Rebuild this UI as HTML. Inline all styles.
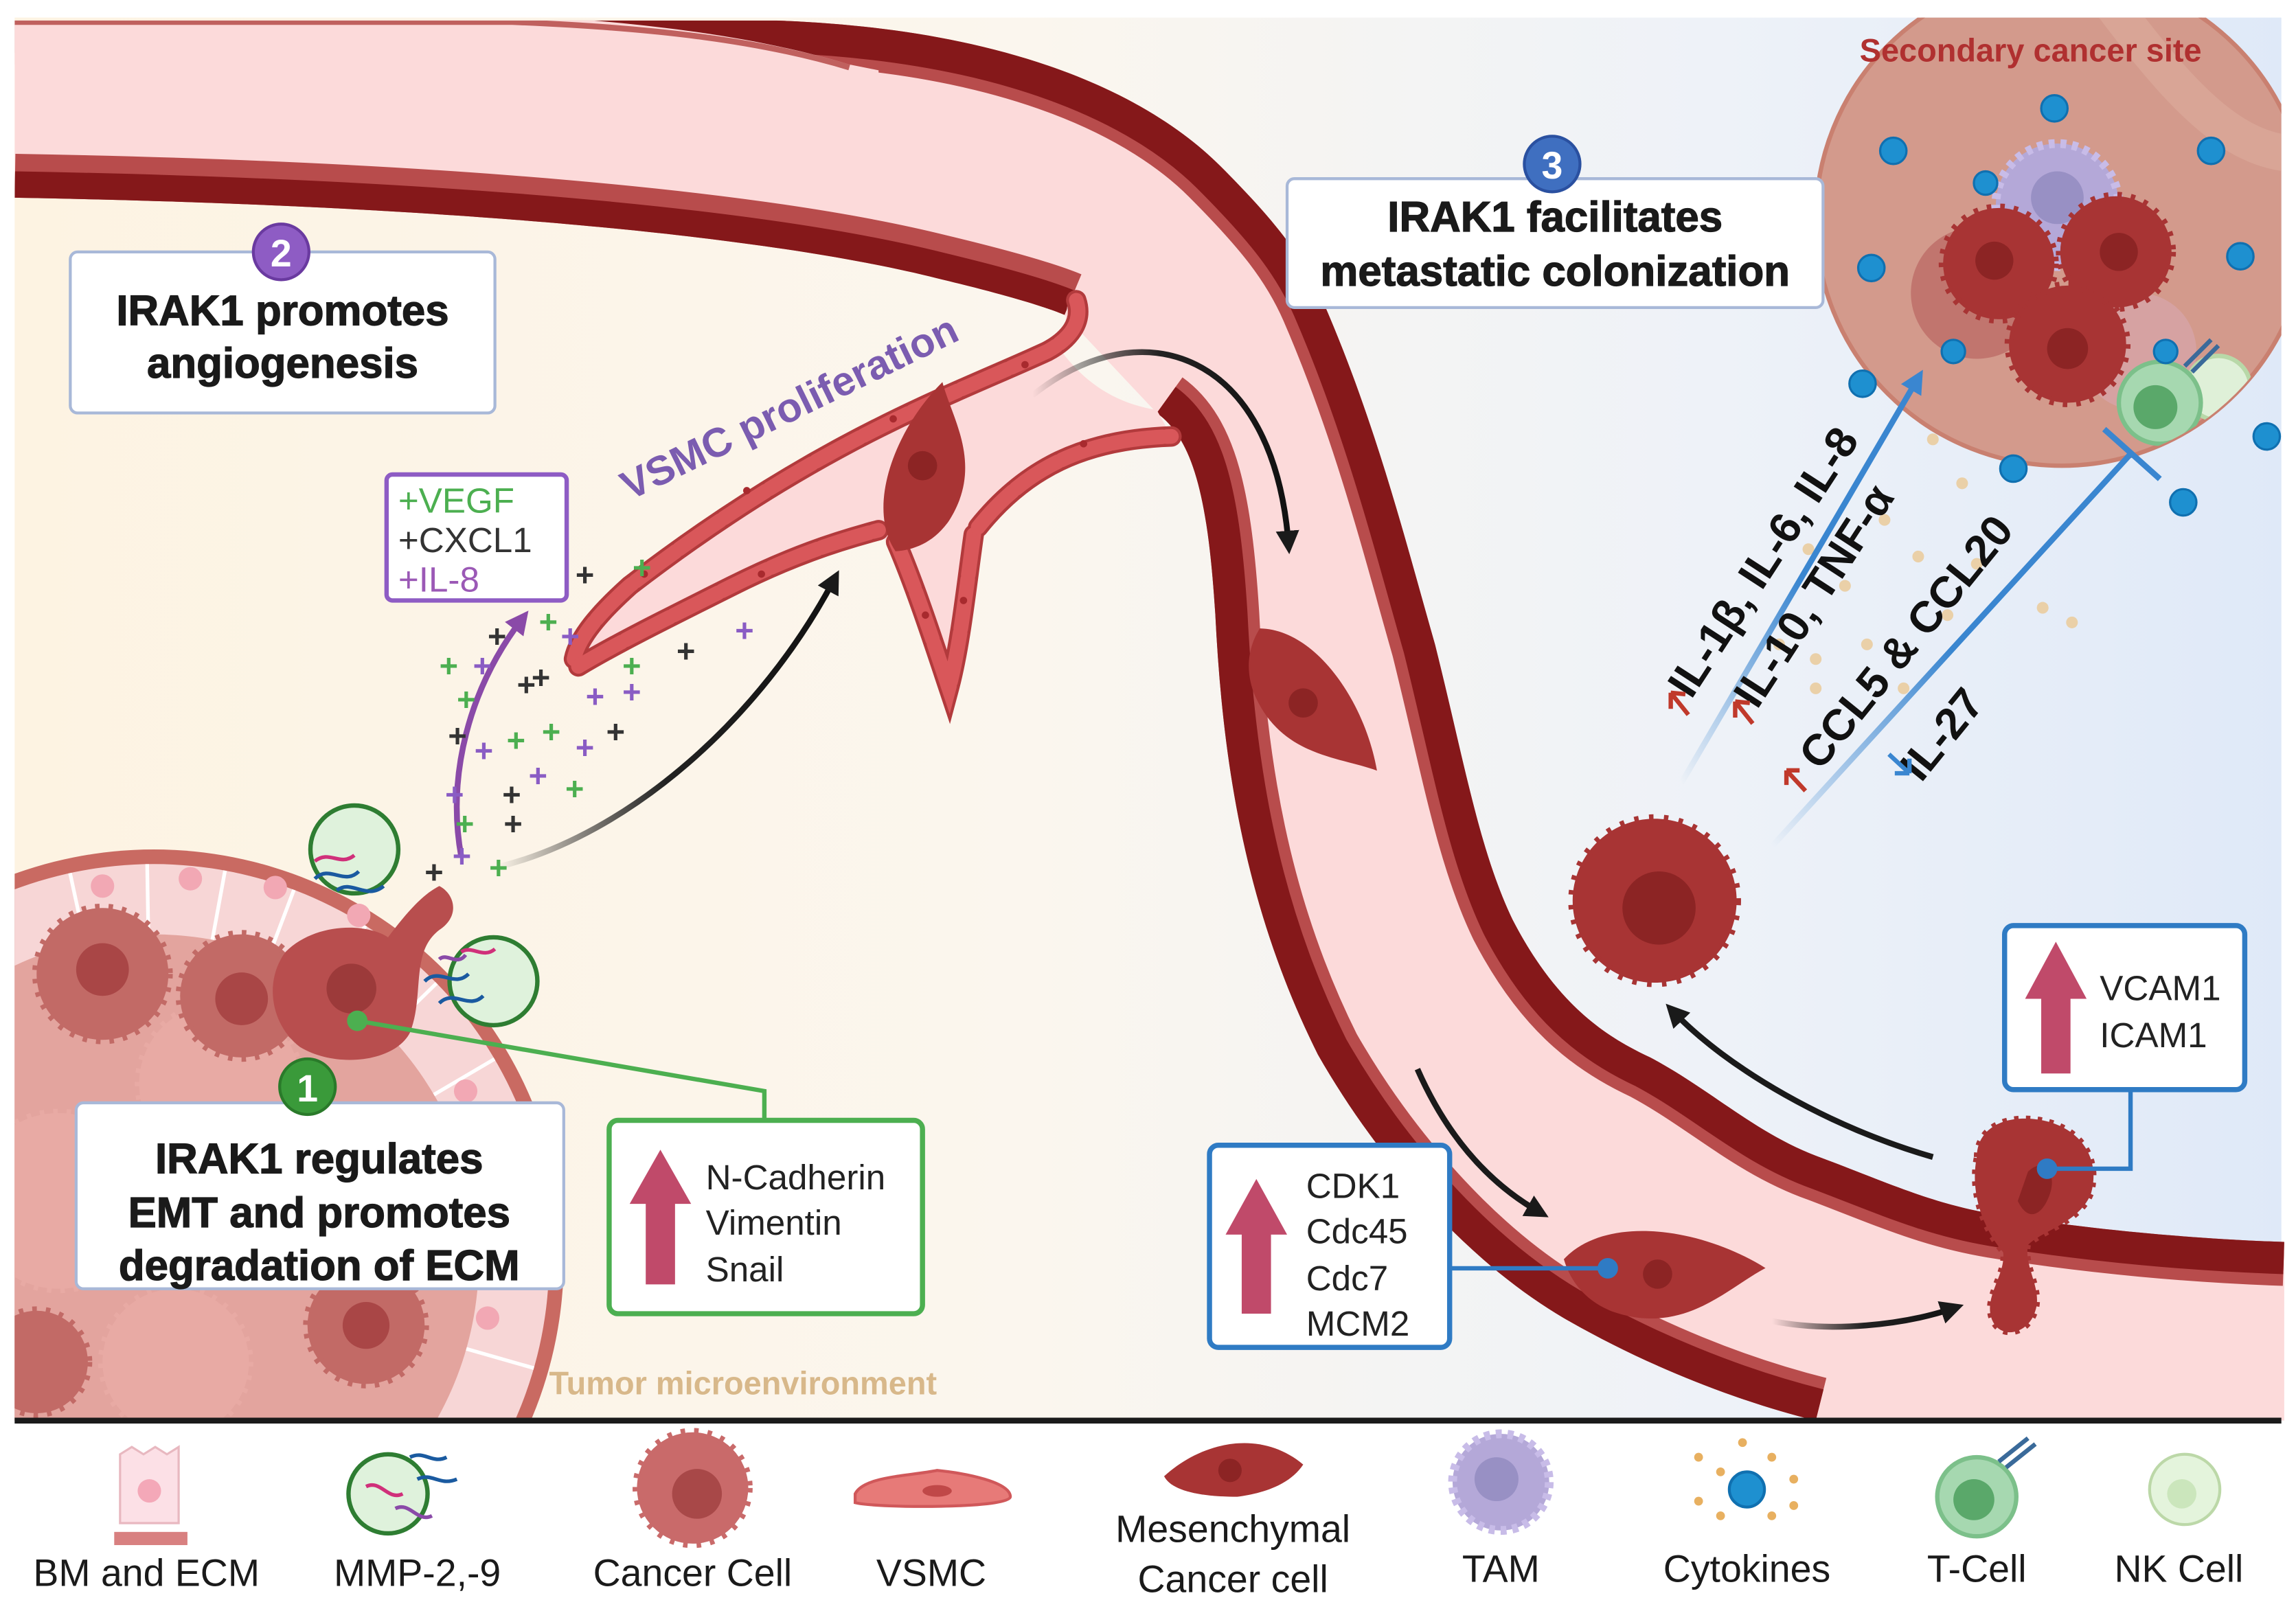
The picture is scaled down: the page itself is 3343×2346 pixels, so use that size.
<!DOCTYPE html>
<html><head><meta charset="utf-8"><style>
html,body{margin:0;padding:0;background:#fff;}
svg{display:block;}
text{font-family:"Liberation Sans",Arial,sans-serif;}
</style></head><body>
<svg width="3343" height="2346" viewBox="0 0 1568 1100" preserveAspectRatio="none" xmlns="http://www.w3.org/2000/svg">
<defs>
<linearGradient id="bg" x1="0" y1="0" x2="1" y2="0">
<stop offset="0" stop-color="#fdf3e2"/><stop offset="0.45" stop-color="#fbf6ee"/><stop offset="0.75" stop-color="#eef2f8"/><stop offset="1" stop-color="#dfe9f8"/>
</linearGradient>
<clipPath id="vc"><path d="M10,14 L530,14 C700,20 790,70 833,113 C870,150 890,175 904,207 C940,290 960,370 980,440 C1000,520 1010,580 1033,628 C1060,680 1090,705 1127,722 C1170,745 1200,775 1245,791 C1290,808 1320,822 1362,829 C1430,840 1500,846 1560,848 L1560,970 L1240,970 C1180,955 1120,930 1068,900 C1000,860 940,790 900,720 C850,620 835,520 830,420 C825,340 815,300 790,282 L727,215 C715,210 690,202 640,190 C520,160 300,140 10,135 Z"/></clipPath>
<clipPath id="main"><rect x="10" y="12" width="1548" height="958"/></clipPath>
<clipPath id="tum"><circle cx="105" cy="860" r="270"/></clipPath>
<clipPath id="sec"><circle cx="1408" cy="150" r="168"/></clipPath>
<linearGradient id="ga" x1="0" y1="0" x2="1" y2="0"><stop offset="0" stop-color="#000" stop-opacity="0"/><stop offset="0.5" stop-color="#222"/><stop offset="1" stop-color="#111"/></linearGradient>
<linearGradient id="gl" x1="0" y1="1" x2="1" y2="0"><stop offset="0" stop-color="#3a86d0" stop-opacity="0"/><stop offset="0.5" stop-color="#3a86d0"/><stop offset="1" stop-color="#3a86d0"/></linearGradient>
<marker id="ah" viewBox="0 0 10 10" refX="6" refY="5" markerWidth="4" markerHeight="4" orient="auto"><path d="M0,0 L10,5 L0,10 Z" fill="#1a1a1a"/></marker>
<marker id="ap" viewBox="0 0 10 10" refX="6" refY="5" markerWidth="4" markerHeight="4" orient="auto"><path d="M0,0 L10,5 L0,10 Z" fill="#8a4aa8"/></marker>
<marker id="ab" viewBox="0 0 10 10" refX="6" refY="5" markerWidth="4" markerHeight="4" orient="auto"><path d="M0,0 L10,5 L0,10 Z" fill="#3a86d0"/></marker>
<path id="mes" d="M-58,12 C-45,-22 10,-36 55,-28 C38,-8 25,28 -20,30 C-38,30 -50,22 -58,12 Z"/>
</defs>
<rect width="1568" height="1100" fill="#fff"/>
<rect x="10" y="12" width="1548" height="958" fill="url(#bg)"/>

<!-- secondary site -->
<g clip-path="url(#main)">
<circle cx="1408" cy="150" r="168" fill="#d39a8c" stroke="#c98070" stroke-width="3"/>
<g clip-path="url(#sec)" opacity="0.5"><path d="M1440,0 C1500,80 1540,120 1600,100" stroke="#e0b0a0" stroke-width="25" fill="none"/></g>
</g>

<!-- tumor -->
<g clip-path="url(#main)">
<circle cx="105" cy="860" r="280" fill="#c96a62"/>
<circle cx="105" cy="860" r="270" fill="#f7d6d6"/>
<g stroke="#fff" stroke-width="2.5" clip-path="url(#tum)">
<line x1="105" y1="860" x2="40" y2="560"/><line x1="105" y1="860" x2="100" y2="560"/><line x1="105" y1="860" x2="160" y2="560"/><line x1="105" y1="860" x2="215" y2="570"/><line x1="105" y1="860" x2="270" y2="600"/><line x1="105" y1="860" x2="320" y2="650"/><line x1="105" y1="860" x2="360" y2="710"/><line x1="105" y1="860" x2="385" y2="780"/><line x1="105" y1="860" x2="390" y2="860"/><line x1="105" y1="860" x2="385" y2="940"/>
</g>
<g fill="#f2a8b4"><circle cx="70" cy="605" r="8"/><circle cx="130" cy="600" r="8"/><circle cx="188" cy="606" r="8"/><circle cx="245" cy="625" r="8"/><circle cx="318" cy="745" r="8"/><circle cx="335" cy="825" r="8"/><circle cx="333" cy="900" r="8"/></g>
<circle cx="105" cy="860" r="222" fill="#e3a49e"/>
<g fill="#e8aaa4" stroke="#e8aaa4" stroke-width="6" stroke-dasharray="3 6">
<circle cx="150" cy="740" r="55"/><circle cx="40" cy="820" r="60"/><circle cx="260" cy="830" r="50"/><circle cx="120" cy="930" r="50"/>
</g>
<g fill="#c26a66" stroke="#c26a66" stroke-width="6" stroke-dasharray="3 6">
<circle cx="70" cy="665" r="45"/><circle cx="165" cy="680" r="42"/><circle cx="250" cy="905" r="40"/><circle cx="25" cy="930" r="35"/>
</g>
<g fill="#a94646"><circle cx="70" cy="662" r="18"/><circle cx="165" cy="682" r="18"/><circle cx="250" cy="905" r="16"/></g>
<path d="M195,650 C215,630 250,630 265,640 C280,620 290,610 300,605 C310,610 315,625 300,635 C280,650 290,680 280,705 C270,725 230,730 205,715 C185,700 180,670 195,650 Z" fill="#b84e4e"/>
<circle cx="240" cy="675" r="17" fill="#9c3a3a"/>
</g>

<!-- vessel -->
<g clip-path="url(#vc)">
<rect x="0" y="0" width="1568" height="1000" fill="#fcdada"/>
<path d="M10,14 L530,14 C700,20 790,70 833,113 C870,150 890,175 904,207 C940,290 960,370 980,440 C1000,520 1010,580 1033,628 C1060,680 1090,705 1127,722 C1170,745 1200,775 1245,791 C1290,808 1320,822 1362,829 C1430,840 1500,846 1560,848" fill="none" stroke="#b84c4c" stroke-width="60"/>
<path d="M10,14 L530,14 C700,20 790,70 833,113 C870,150 890,175 904,207 C940,290 960,370 980,440 C1000,520 1010,580 1033,628 C1060,680 1090,705 1127,722 C1170,745 1200,775 1245,791 C1290,808 1320,822 1362,829 C1430,840 1500,846 1560,848" fill="none" stroke="#85181a" stroke-width="44"/>
<path d="M10,10 L350,10 C450,16 520,26 580,44 L600,48 L600,80 L10,80 Z" fill="#fcdada"/>
<path d="M10,15 L350,15 C450,19 520,28 580,46" fill="none" stroke="#c0605e" stroke-width="4"/>
<path d="M1240,970 C1180,955 1120,930 1068,900 C1000,860 940,790 900,720 C850,620 835,520 830,420 C825,340 815,300 790,282" fill="none" stroke="#b84c4c" stroke-width="60"/>
<path d="M1240,970 C1180,955 1120,930 1068,900 C1000,860 940,790 900,720 C850,620 835,520 830,420 C825,340 815,300 790,282" fill="none" stroke="#85181a" stroke-width="44"/>
<path d="M727,215 C715,210 690,202 640,190 C520,160 300,140 10,135" fill="none" stroke="#b84c4c" stroke-width="60"/>
<path d="M727,215 C715,210 690,202 640,190 C520,160 300,140 10,135" fill="none" stroke="#85181a" stroke-width="36"/>
</g>

<!-- VSMC branch -->
<path d="M730,200 C740,215 735,225 720,235 C650,270 560,300 430,400 C400,425 392,440 390,452 C400,455 420,445 450,425 C500,400 560,375 600,360 C615,390 630,430 645,468 C655,450 658,400 665,362 C700,320 750,300 800,298 L790,280 C760,275 740,260 725,240 Z" fill="#fcdada"/>
<g fill="none" stroke="#b23a3c" stroke-width="14" stroke-linecap="round">
<path d="M735,205 C740,220 730,232 715,240 C650,270 560,300 430,400 C410,418 395,435 392,450"/>
<path d="M395,455 C420,440 450,425 500,400 C540,380 570,370 600,362"/>
<path d="M612,370 C625,400 638,440 648,470 C656,440 660,400 665,365"/>
<path d="M668,360 C700,320 740,300 800,298"/>
</g>
<g fill="none" stroke="#d9575a" stroke-width="10" stroke-linecap="round" stroke-dasharray="34 3">
<path d="M735,205 C740,220 730,232 715,240 C650,270 560,300 430,400 C410,418 395,435 392,450"/>
<path d="M395,455 C420,440 450,425 500,400 C540,380 570,370 600,362"/>
<path d="M612,370 C625,400 638,440 648,470 C656,440 660,400 665,365"/>
<path d="M668,360 C700,320 740,300 800,298"/>
</g>
<g fill="#a82a2e"><circle cx="700" cy="249" r="2.5"/><circle cx="610" cy="286" r="2.5"/><circle cx="510" cy="335" r="2.5"/><circle cx="440" cy="392" r="2.5"/><circle cx="520" cy="392" r="2.5"/><circle cx="740" cy="303" r="2.5"/><circle cx="632" cy="420" r="2.5"/><circle cx="658" cy="410" r="2.5"/></g>
<use href="#mes" transform="translate(635,322) rotate(-55) scale(1.0)" fill="#a83434"/>
<circle cx="630" cy="318" r="10" fill="#8c2424"/>

<!-- cells in vessel -->
<use href="#mes" transform="translate(893,482) rotate(70) scale(1.05)" fill="#a83434"/>
<circle cx="890" cy="480" r="10" fill="#8c2424"/>
<use href="#mes" transform="translate(1135,872) rotate(22) scale(1.15)" fill="#a83434"/>
<circle cx="1132" cy="870" r="10" fill="#8c2424"/>
<!-- extravasating cell -->
<path d="M1350,790 C1350,770 1370,760 1395,765 C1420,770 1435,790 1428,815 C1420,835 1395,840 1385,850 C1382,865 1395,880 1390,895 C1385,912 1365,915 1360,900 C1355,885 1370,870 1368,855 C1355,840 1345,815 1350,790 Z" fill="#a83434" stroke="#a83434" stroke-width="4" stroke-dasharray="3 5"/>
<path d="M1385,800 C1395,790 1405,800 1400,815 C1395,830 1385,835 1378,820 Z" fill="#8c2424"/>
<!-- round cancer cell -->
<circle cx="1130" cy="615" r="56" fill="#a83434" stroke="#a83434" stroke-width="6" stroke-dasharray="3 7"/>
<circle cx="1133" cy="620" r="25" fill="#8c2424"/>

<!-- secondary site cells -->
<g clip-path="url(#sec)">
<circle cx="1350" cy="200" r="45" fill="#b05050" opacity="0.5"/>
<circle cx="1460" cy="240" r="40" fill="#d8a8b0" opacity="0.6"/>
<circle cx="1405" cy="140" r="42" fill="#b4a8d8" stroke="#c8bce8" stroke-width="6" stroke-dasharray="4 4"/>
<circle cx="1405" cy="135" r="18" fill="#9890c4"/>
<circle cx="1365" cy="180" r="38" fill="#a83434" stroke="#a83434" stroke-width="6" stroke-dasharray="3 6"/>
<circle cx="1445" cy="172" r="38" fill="#a83434" stroke="#a83434" stroke-width="6" stroke-dasharray="3 6"/>
<circle cx="1412" cy="235" r="40" fill="#a83434" stroke="#a83434" stroke-width="6" stroke-dasharray="3 6"/>
<g fill="#8c2424"><circle cx="1362" cy="178" r="13"/><circle cx="1447" cy="172" r="13"/><circle cx="1412" cy="238" r="14"/></g>
<circle cx="1515" cy="265" r="22" fill="#dff0d8" stroke="#b8d8a8" stroke-width="3"/>
<circle cx="1475" cy="275" r="28" fill="#a6d8b0" stroke="#7cc08a" stroke-width="3"/>
<circle cx="1472" cy="278" r="15" fill="#5aa86a"/>
</g>
<path d="M1492,250 L1510,232 M1497,254 L1515,236" stroke="#3a6a9a" stroke-width="3"/>
<g fill="#1e90d0" stroke="#1070b0" stroke-width="1.5">
<circle cx="1403" cy="74" r="9"/><circle cx="1293" cy="103" r="9"/><circle cx="1510" cy="103" r="9"/><circle cx="1530" cy="175" r="9"/><circle cx="1278" cy="183" r="9"/><circle cx="1356" cy="125" r="8"/><circle cx="1334" cy="240" r="8"/><circle cx="1479" cy="240" r="8"/><circle cx="1272" cy="262" r="9"/><circle cx="1375" cy="320" r="9"/><circle cx="1491" cy="343" r="9"/><circle cx="1548" cy="298" r="9"/>
</g>

<!-- cytokine dots -->
<g fill="#ead0a8">
<circle cx="1235" cy="375" r="4"/><circle cx="1260" cy="400" r="4"/><circle cx="1287" cy="355" r="4"/><circle cx="1310" cy="380" r="4"/><circle cx="1330" cy="420" r="4"/><circle cx="1240" cy="450" r="4"/><circle cx="1275" cy="440" r="4"/><circle cx="1300" cy="470" r="4"/><circle cx="1240" cy="470" r="4"/><circle cx="1215" cy="440" r="4"/><circle cx="1350" cy="385" r="4"/><circle cx="1395" cy="415" r="4"/><circle cx="1415" cy="425" r="4"/><circle cx="1340" cy="330" r="4"/><circle cx="1320" cy="300" r="4"/>
</g>
<!-- blue lines -->
<line x1="1148" y1="535" x2="1310" y2="258" stroke="url(#gl)" stroke-width="4" marker-end="url(#ab)"/>
<line x1="1210" y1="578" x2="1455" y2="310" stroke="url(#gl)" stroke-width="4"/>
<line x1="1437" y1="293" x2="1475" y2="327" stroke="#3a86d0" stroke-width="4"/>
<g font-weight="bold" font-size="30" fill="#111">
<text transform="translate(1155,478) rotate(-57)">IL-1β, IL-6, IL-8</text>
<text transform="translate(1200,485) rotate(-57)">IL-10, TNF-α</text>
<text transform="translate(1243,527) rotate(-51)">CCL5 &amp; CCL20</text>
<text transform="translate(1312,535) rotate(-51)">IL-27</text>
</g>
<g stroke="#c0392b" stroke-width="3" fill="none"><path d="M1153,488 L1141,473 M1141,473 L1141,484 M1141,473 L1151,474"/><path d="M1197,494 L1185,479 M1185,479 L1185,490 M1185,479 L1195,480"/><path d="M1233,540 L1220,526 M1220,526 L1220,536 M1220,526 L1229,526"/></g>
<g stroke="#3a86d0" stroke-width="3" fill="none"><path d="M1290,515 L1304,528 M1304,528 L1304,518 M1304,528 L1294,528"/></g>

<!-- black arrows -->
<g fill="none" stroke-width="4" marker-end="url(#ah)">
<path d="M340,592 C430,570 520,490 570,395" stroke="url(#ga)"/>
<path d="M705,270 C780,210 870,240 880,372" stroke="url(#ga)"/>
<path d="M968,730 C990,780 1020,810 1052,828" stroke="#1a1a1a"/>
<path d="M1210,902 C1250,910 1300,905 1335,893" stroke="url(#ga)"/>
<path d="M1320,790 C1250,770 1180,730 1142,690" stroke="#1a1a1a"/>
</g>
<path d="M315,585 C305,530 320,470 357,422" fill="none" stroke="#8a4aa8" stroke-width="4" marker-end="url(#ap)"/>

<!-- plus signs -->
<g font-size="22" font-weight="bold">
<text fill="#4caf50" x="300" y="462">+</text><text fill="#8a5cc4" x="323" y="462">+</text><text fill="#333" x="333" y="442">+</text><text fill="#4caf50" x="368" y="432">+</text><text fill="#8a5cc4" x="383" y="442">+</text>
<text fill="#4caf50" x="312" y="485">+</text><text fill="#333" x="353" y="475">+</text><text fill="#333" x="363" y="470">+</text><text fill="#8a5cc4" x="400" y="483">+</text><text fill="#8a5cc4" x="425" y="480">+</text><text fill="#4caf50" x="425" y="462">+</text><text fill="#333" x="462" y="452">+</text><text fill="#8a5cc4" x="502" y="438">+</text>
<text fill="#333" x="306" y="510">+</text><text fill="#8a5cc4" x="324" y="520">+</text><text fill="#4caf50" x="346" y="513">+</text><text fill="#4caf50" x="370" y="507">+</text><text fill="#8a5cc4" x="393" y="518">+</text><text fill="#333" x="414" y="507">+</text>
<text fill="#8a5cc4" x="304" y="550">+</text><text fill="#8a5cc4" x="361" y="537">+</text><text fill="#333" x="343" y="550">+</text><text fill="#4caf50" x="386" y="546">+</text>
<text fill="#4caf50" x="311" y="570">+</text><text fill="#333" x="344" y="570">+</text><text fill="#8a5cc4" x="309" y="592">+</text><text fill="#4caf50" x="334" y="600">+</text><text fill="#333" x="290" y="603">+</text>
<text fill="#333" x="393" y="400">+</text><text fill="#4caf50" x="432" y="395">+</text>
</g>

<!-- MMP circles -->
<g fill="#dff2dc" stroke="#2e7d32" stroke-width="3">
<circle cx="242" cy="580" r="30"/><circle cx="337" cy="670" r="30"/>
</g>
<g fill="none" stroke-width="2.5">
<path d="M215,600 C225,590 235,605 245,595" stroke="#1a5aa0"/><path d="M230,608 C240,600 250,615 262,605" stroke="#1a5aa0"/><path d="M215,588 C225,580 232,592 242,584" stroke="#d0307a"/>
<path d="M290,670 C300,660 310,675 320,665" stroke="#1a5aa0"/><path d="M300,685 C310,675 320,690 330,680" stroke="#1a5aa0"/><path d="M300,655 C305,650 312,660 318,652" stroke="#8a4aa8"/><path d="M315,650 C322,645 330,655 338,648" stroke="#d0307a"/>
</g>

<!-- connectors -->
<polyline points="244,697 522,745 522,764" fill="none" stroke="#4caf50" stroke-width="3"/>
<circle cx="244" cy="697" r="7" fill="#4caf50"/>
<line x1="990" y1="866" x2="1098" y2="866" stroke="#2f7bc4" stroke-width="3"/>
<circle cx="1098" cy="866" r="7" fill="#2f7bc4"/>
<polyline points="1455,744 1455,798 1398,798" fill="none" stroke="#2f7bc4" stroke-width="3"/>
<circle cx="1398" cy="798" r="7" fill="#2f7bc4"/>

<!-- boxes -->
<rect x="48" y="172" width="290" height="110" rx="5" fill="#fff" stroke="#a8b8d8" stroke-width="2"/>
<rect x="879" y="122" width="366" height="88" rx="5" fill="#fff" stroke="#a8b8d8" stroke-width="2"/>
<rect x="52" y="753" width="333" height="127" rx="5" fill="#fff" stroke="#a8b8d8" stroke-width="2"/>
<g font-weight="bold" font-size="29" fill="#1a1a1a" text-anchor="middle" stroke="#1a1a1a" stroke-width="0.6">
<text x="193" y="222">IRAK1 promotes</text><text x="193" y="258">angiogenesis</text>
<text x="1062" y="158">IRAK1 facilitates</text><text x="1062" y="195">metastatic colonization</text>
<text x="218" y="801">IRAK1 regulates</text><text x="218" y="838">EMT and promotes</text><text x="218" y="874">degradation of ECM</text>
</g>
<circle cx="192" cy="172" r="19" fill="#8e5cc4" stroke="#6a3aa0" stroke-width="2"/><text x="192" y="182" font-size="26" font-weight="bold" fill="#fff" text-anchor="middle">2</text>
<circle cx="1060" cy="112" r="19" fill="#3f6fc0" stroke="#2a50a0" stroke-width="2"/><text x="1060" y="122" font-size="26" font-weight="bold" fill="#fff" text-anchor="middle">3</text>
<circle cx="210" cy="742" r="19" fill="#3a9a3a" stroke="#2a7a2a" stroke-width="2"/><text x="210" y="752" font-size="26" font-weight="bold" fill="#fff" text-anchor="middle">1</text>

<rect x="416" y="765" width="214" height="132" rx="6" fill="#fff" stroke="#4caf50" stroke-width="3.5"/>
<rect x="826" y="782" width="164" height="138" rx="6" fill="#fff" stroke="#2f7bc4" stroke-width="3.5"/>
<rect x="1369" y="632" width="164" height="112" rx="6" fill="#fff" stroke="#2f7bc4" stroke-width="3.5"/>
<g fill="#c04a6a">
<path d="M441,877 L441,822 L430,822 L451,785 L472,822 L461,822 L461,877 Z"/>
<path d="M848,897 L848,843 L837,843 L858,805 L879,843 L868,843 L868,897 Z"/>
<path d="M1394,733 L1394,682 L1383,682 L1404,643 L1425,682 L1414,682 L1414,733 Z"/>
</g>
<g font-size="24" fill="#222">
<text x="482" y="812">N-Cadherin</text><text x="482" y="843">Vimentin</text><text x="482" y="875">Snail</text>
<text x="892" y="818">CDK1</text><text x="892" y="849">Cdc45</text><text x="892" y="881">Cdc7</text><text x="892" y="912">MCM2</text>
<text x="1434" y="683">VCAM1</text><text x="1434" y="715">ICAM1</text>
</g>
<rect x="264" y="324" width="123" height="86" rx="4" fill="#fff" stroke="#8e5cc4" stroke-width="3"/>
<g font-size="24"><text x="272" y="350" fill="#4caf50">+VEGF</text><text x="272" y="377" fill="#333">+CXCL1</text><text x="272" y="404" fill="#9b59b6">+IL-8</text></g>

<text transform="translate(430,342) rotate(-26)" font-size="28" font-weight="bold" fill="#7b5cb0">VSMC proliferation</text>
<text x="375" y="952" font-size="22" font-weight="bold" fill="#d8b88a">Tumor microenvironment</text>
<text x="1270" y="42" font-size="22" font-weight="bold" fill="#b03030">Secondary cancer site</text>

<!-- legend -->
<rect x="10" y="968" width="1548" height="4" fill="#1a1a1a"/>
<path d="M82,993 L90,988 L98,993 L106,988 L114,993 L122,988 L122,1040 L82,1040 Z" fill="#fce0e6" stroke="#e8b8c0" stroke-width="1.5"/>
<circle cx="102" cy="1018" r="8" fill="#f4a8b8"/>
<rect x="78" y="1046" width="50" height="9" fill="#d88080"/>
<circle cx="265" cy="1020" r="27" fill="#dff2dc" stroke="#2e7d32" stroke-width="3"/>
<g fill="none" stroke-width="2.5"><path d="M280,995 C290,990 295,1000 305,995" stroke="#1a5aa0"/><path d="M285,1010 C295,1005 300,1015 312,1010" stroke="#1a5aa0"/><path d="M270,1030 C280,1025 285,1040 295,1035" stroke="#8a4aa8"/><path d="M250,1015 C260,1010 265,1025 275,1020" stroke="#d0307a"/></g>
<circle cx="473" cy="1016" r="38" fill="#c96a6a" stroke="#c96a6a" stroke-width="6" stroke-dasharray="3 6"/>
<circle cx="476" cy="1020" r="17" fill="#a84848"/>
<path d="M584,1020 C590,1008 620,1008 640,1004 C660,1006 690,1012 690,1022 C690,1030 600,1030 584,1026 Z" fill="#e77a78" stroke="#d0585a" stroke-width="2"/>
<ellipse cx="640" cy="1018" rx="10" ry="4" fill="#c04848"/>
<path d="M795,1008 C820,985 860,975 890,1000 C880,1015 860,1020 845,1022 C820,1022 800,1018 795,1008 Z" fill="#a83434"/>
<circle cx="840" cy="1004" r="8" fill="#8c2424"/>
<circle cx="1025" cy="1012" r="33" fill="#b4a8d8" stroke="#c8bce8" stroke-width="6" stroke-dasharray="4 4"/>
<circle cx="1022" cy="1010" r="15" fill="#9890c4"/>
<g fill="#e8b060"><circle cx="1160" cy="995" r="3"/><circle cx="1175" cy="1005" r="3"/><circle cx="1210" cy="995" r="3"/><circle cx="1225" cy="1010" r="3"/><circle cx="1160" cy="1025" r="3"/><circle cx="1190" cy="985" r="3"/><circle cx="1210" cy="1035" r="3"/><circle cx="1175" cy="1035" r="3"/><circle cx="1225" cy="1028" r="3"/></g>
<circle cx="1193" cy="1017" r="12" fill="#1e90d0" stroke="#1070b0" stroke-width="2"/>
<circle cx="1350" cy="1022" r="27" fill="#a6d8b0" stroke="#7cc08a" stroke-width="3"/>
<circle cx="1348" cy="1024" r="14" fill="#5aa86a"/>
<path d="M1365,998 L1385,982 M1370,1002 L1390,986" stroke="#3a6a9a" stroke-width="3"/>
<circle cx="1492" cy="1017" r="24" fill="#e4f4dc" stroke="#bcd8a8" stroke-width="2"/>
<circle cx="1490" cy="1020" r="10" fill="#cbe6bc"/>
<g font-size="26" fill="#1a1a1a" text-anchor="middle">
<text x="100" y="1083">BM and ECM</text><text x="285" y="1083">MMP-2,-9</text><text x="473" y="1083">Cancer Cell</text><text x="636" y="1083">VSMC</text>
<text x="842" y="1053">Mesenchymal</text><text x="842" y="1087">Cancer cell</text>
<text x="1025" y="1080">TAM</text><text x="1193" y="1080">Cytokines</text><text x="1350" y="1080">T-Cell</text><text x="1488" y="1080">NK Cell</text>
</g>
</svg>
</body></html>
